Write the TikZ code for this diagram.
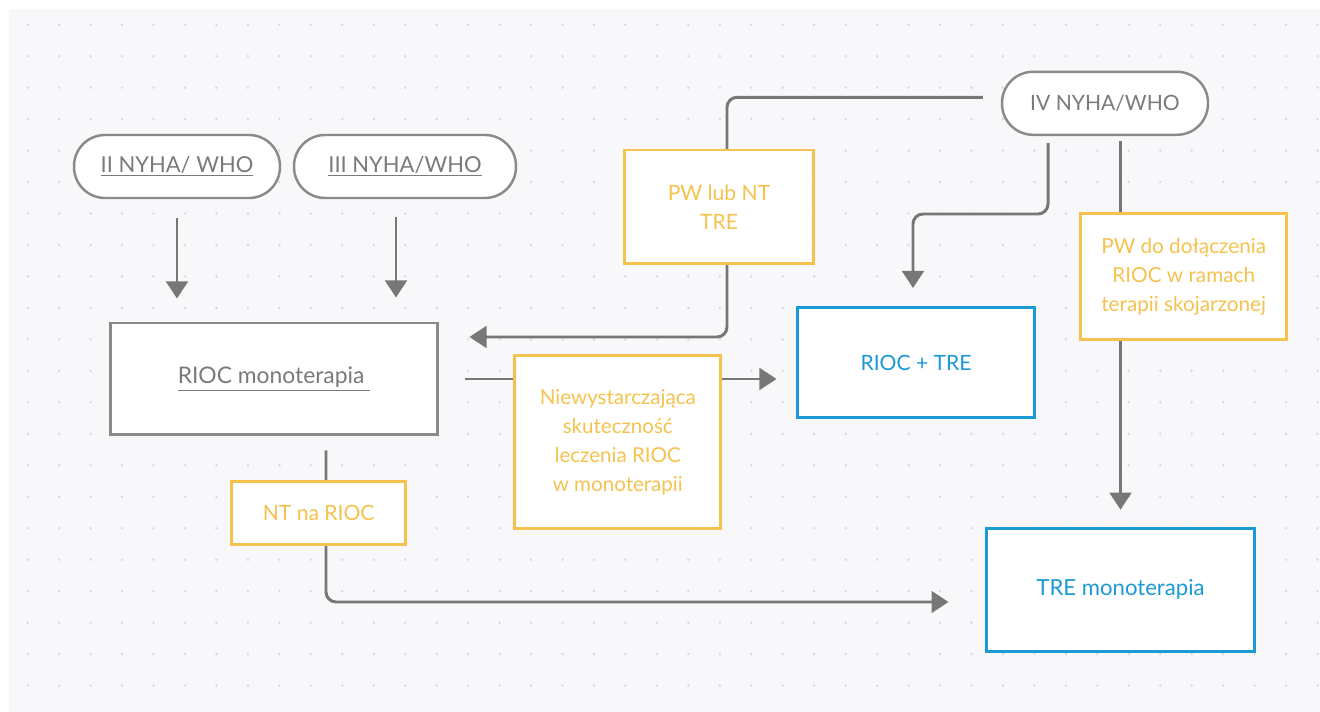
\documentclass[tikz,border=0pt]{standalone}
\usepackage{fontspec}
\setmainfont{Lato}
\usetikzlibrary{arrows.meta,calc,positioning}

\definecolor{bgcol}{HTML}{F8F8FA}
\definecolor{dotcol}{HTML}{DADADE}
\definecolor{linecol}{HTML}{777777}
\definecolor{pillcol}{HTML}{8A8A8A}
\definecolor{txtgray}{HTML}{7A7A7A}
\definecolor{ambercol}{HTML}{F6C24E}
\definecolor{bluecol}{HTML}{1B9AD6}

\pgfdeclarelayer{back}
\pgfdeclarelayer{wires}
\pgfsetlayers{back,wires,main}

\tikzset{
  pill/.style={draw=pillcol, line width=1.4pt, fill=white, rounded corners=0.62cm,
    minimum height=1.26cm, inner sep=0pt, text=txtgray, font=\fontsize{12.5}{15}\selectfont},
  graybox/.style={draw=pillcol, line width=1.7pt, fill=white, inner sep=0pt,
    text=txtgray, font=\fontsize{13}{15}\selectfont},
  ambernote/.style={draw=ambercol, line width=1.7pt, fill=white, inner sep=0pt,
    text=ambercol, align=center},
  bluebox/.style={draw=bluecol, line width=1.7pt, fill=white, inner sep=0pt,
    text=bluecol, font=\fontsize{12}{15}\selectfont},
  arr/.style={draw=linecol, line width=1.7pt, -{Triangle[length=9.7pt,width=12.3pt]}},
  wire/.style={rounded corners=0.2cm},
}

\begin{document}
\begin{tikzpicture}[x=0.02cm, y=-0.02cm]
  \useasboundingbox (0,0) rectangle (1320,712);
  \begin{pgfonlayer}{back}
    \fill[white] (0,0) rectangle (1320,712);
    \fill[bgcol] (9,9) rectangle (1320,712);
    \foreach \i in {0,...,41}
      \foreach \j in {0,...,21}
        \fill[dotcol] (27.7+31.46*\i, 24.7+31.47*\j) circle (0.028cm);
  \end{pgfonlayer}

  \path (177,166.5)   node[pill, minimum width=4.12cm] (II)  {\underline{II NYHA/ WHO}}
        (405,166.5)   node[pill, minimum width=4.44cm] (III) {\underline{III NYHA/WHO}}
        (1105,103.3)  node[pill, minimum width=4.12cm, font=\fontsize{12}{15}\selectfont] (IV) {IV NYHA/WHO};

  \path (274,379)     node[graybox, minimum width=6.56cm, minimum height=2.24cm] (mono) {\underline{RIOC monoterapia\ }}
        (719,207)     node[ambernote, minimum width=3.8cm, minimum height=2.28cm,
                           font=\fontsize{12}{16.5}\selectfont] (PWTRE) {PW lub NT\\TRE}
        (1183.7,276.3) node[ambernote, minimum width=4.12cm, minimum height=2.52cm,
                           font=\fontsize{11.8}{16.5}\selectfont] (PWRIOC) {PW do dołączenia\\RIOC w ramach\\terapii skojarzonej}
        (617.8,442)   node[ambernote, minimum width=4.12cm, minimum height=3.48cm,
                           font=\fontsize{11.7}{16.5}\selectfont] (insuff) {Niewystarczająca\\skuteczność\\leczenia RIOC\\w monoterapii}
        (318.7,513)   node[ambernote, minimum width=3.48cm, minimum height=1.26cm,
                           font=\fontsize{12}{15}\selectfont] (NTR) {NT na RIOC}
        (916,362.5)   node[bluebox, minimum width=4.76cm, minimum height=2.2cm] (RT) {RIOC + TRE}
        (1120.5,589.7) node[bluebox, minimum width=5.38cm, minimum height=2.46cm,
                           font=\fontsize{12.6}{15}\selectfont] (TM) {TRE monoterapia};

  \coordinate (IIIout) at ($(III.south)+(-9,0)$);
  \coordinate (bendA) at (727,337);
  \coordinate (bendB) at (913,214);
  \coordinate (bendC) at (326,602);

  \begin{pgfonlayer}{wires}
    \draw[arr, shorten <=0.38cm, shorten >=0.46cm] (II.south) -- (II.south |- mono.north);
    \draw[arr, shorten <=0.36cm, shorten >=0.48cm] (IIIout) -- (IIIout |- mono.north);
    \draw[arr, wire, shorten <=0.36cm, shorten >=0.6cm] ([yshift=0.12cm]IV.west) -| (bendA) -- (bendA -| mono.east);
    \draw[arr, wire, shorten <=0.14cm, shorten >=0.36cm] ([xshift=-1.14cm]IV.south) |- (bendB) -- (bendB |- RT.north);
    \draw[arr, shorten <=0.1cm, shorten >=0.34cm] (TM.north |- IV.south) -- (TM.north);
    \draw[arr, shorten <=0.52cm, shorten >=0.38cm] (mono.east) -- (mono.east -| RT.west);
    \draw[arr, wire, shorten <=0.28cm, shorten >=0.72cm] (bendC |- mono.south) -- (bendC) -- (bendC -| TM.west);
  \end{pgfonlayer}
\end{tikzpicture}
\end{document}
